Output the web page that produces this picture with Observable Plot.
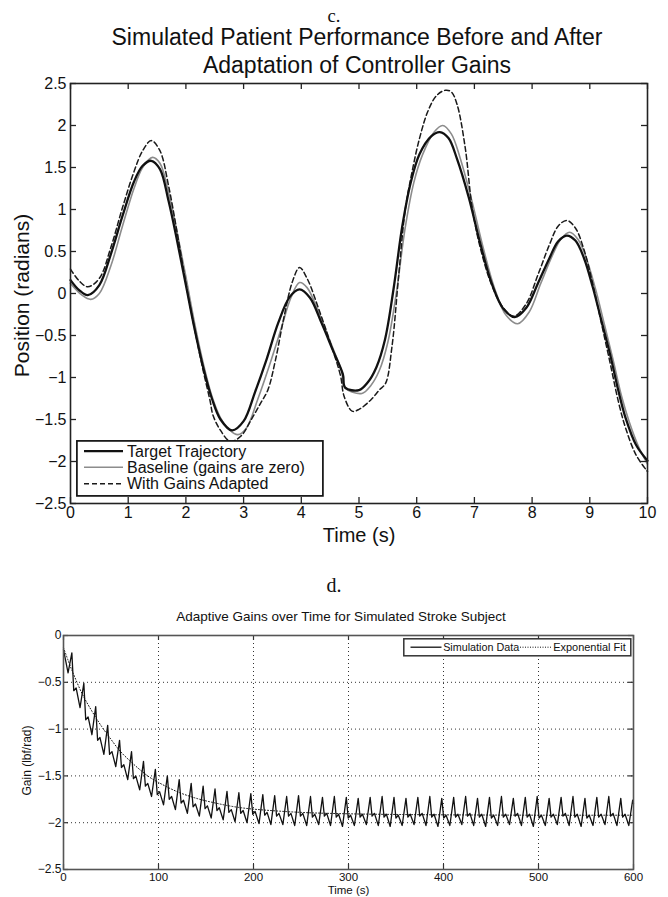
<!DOCTYPE html>
<html><head><meta charset="utf-8">
<script src="https://cdn.jsdelivr.net/npm/d3@7"></script>
<script src="https://cdn.jsdelivr.net/npm/@observablehq/plot@0.6"></script>
<style>
body{margin:0;background:#fff;}
#page{position:relative;width:668px;height:897px;overflow:hidden;font-family:"Liberation Sans",Arial,sans-serif;color:#111;background:#fff;}
.abs{position:absolute;white-space:nowrap;text-align:center;}
.serif{font-family:"Liberation Serif","Times New Roman",serif;}
</style></head><body><div id="page"></div>
<script>
// ---------- Panel c: trajectories ----------
const targetT = [0,0.15,0.3,0.5,0.7,0.9,1.1,1.25,1.4,1.55,1.7,1.85,2.0,2.15,2.3,2.45,2.6,2.8,3.0,3.2,3.4,3.6,3.8,3.97,4.15,4.35,4.55,4.72,4.76,5.0,5.15,5.3,5.45,5.6,5.75,5.9,6.05,6.25,6.4,6.55,6.7,6.9,7.1,7.3,7.5,7.7,7.9,8.1,8.3,8.45,8.6,8.75,8.9,9.05,9.2,9.35,9.5,9.62,9.8,10];
const targetV = [0.16,0.04,-0.02,0.10,0.47,0.92,1.33,1.52,1.58,1.48,1.10,0.62,0.10,-0.42,-0.88,-1.25,-1.50,-1.63,-1.52,-1.17,-0.78,-0.35,-0.04,0.05,-0.05,-0.35,-0.68,-0.96,-1.12,-1.15,-1.06,-0.88,-0.55,0.06,0.80,1.33,1.66,1.87,1.92,1.85,1.60,1.15,0.60,0.12,-0.18,-0.28,-0.17,0.12,0.42,0.62,0.69,0.63,0.42,0.08,-0.32,-0.72,-1.17,-1.48,-1.80,-1.99];

const baseT = [0,0.2,0.35,0.5,0.7,0.9,1.1,1.25,1.42,1.55,1.7,1.85,2.0,2.15,2.3,2.45,2.6,2.75,2.9,3.05,3.25,3.45,3.65,3.82,3.97,4.1,4.3,4.5,4.7,4.75,5.05,5.2,5.35,5.5,5.65,5.8,5.95,6.1,6.3,6.45,6.6,6.75,6.95,7.15,7.35,7.55,7.75,7.95,8.15,8.35,8.5,8.65,8.8,8.95,9.1,9.25,9.4,9.55,9.68,9.85,10];
const baseV = [0.12,-0.02,-0.07,0.0,0.33,0.80,1.25,1.50,1.62,1.55,1.20,0.72,0.20,-0.35,-0.83,-1.22,-1.48,-1.62,-1.68,-1.60,-1.25,-0.85,-0.42,-0.05,0.13,0.07,-0.22,-0.57,-0.93,-1.12,-1.19,-1.10,-0.92,-0.58,0.02,0.78,1.32,1.65,1.92,2.0,1.90,1.62,1.12,0.55,0.06,-0.26,-0.36,-0.22,0.12,0.45,0.65,0.73,0.64,0.40,0.05,-0.36,-0.78,-1.22,-1.52,-1.83,-2.03];

const adaptT = [0,0.15,0.3,0.5,0.7,0.9,1.1,1.25,1.4,1.55,1.7,1.85,2.0,2.15,2.3,2.42,2.47,2.6,2.77,2.95,3.15,3.3,3.42,3.55,3.7,3.85,3.97,4.1,4.3,4.5,4.68,4.74,4.88,5.0,5.2,5.35,5.46,5.57,5.69,5.8,5.92,6.05,6.2,6.35,6.5,6.6,6.7,6.84,6.96,7.1,7.3,7.5,7.68,7.9,8.1,8.3,8.45,8.6,8.75,8.9,9.05,9.2,9.35,9.5,9.62,9.8,10];
const adaptV = [0.29,0.15,0.08,0.18,0.55,1.02,1.45,1.70,1.82,1.70,1.28,0.72,0.12,-0.42,-0.92,-1.28,-1.45,-1.63,-1.76,-1.70,-1.48,-1.30,-1.15,-0.80,-0.28,0.15,0.31,0.18,-0.18,-0.58,-0.98,-1.22,-1.40,-1.38,-1.27,-1.15,-1.07,-0.64,0.23,0.99,1.45,1.85,2.18,2.36,2.42,2.40,2.25,1.74,1.03,0.55,0.10,-0.17,-0.27,-0.12,0.22,0.58,0.80,0.87,0.78,0.52,0.12,-0.35,-0.82,-1.30,-1.60,-1.92,-2.12];

const topXTicks = [0,1,2,3,4,5,6,7,8,9,10];
const topYTicks = [-2.5,-2,-1.5,-1,-0.5,0,0.5,1,1.5,2,2.5];
const topLegend = ["Target Trajectory","Baseline (gains are zero)","With Gains Adapted"];

// ---------- Panel d: adaptive gains ----------
const simStart = -0.15;
const simEnd = -1.80;
const simPeakTime = [8.8,21.4,33.9,46.5,59.0,71.6,84.2,96.7,109.3,121.8,134.4,147.0,159.5,172.1,184.6,197.2,209.8,222.3,234.9,247.4,260.0,272.6,285.1,297.7,310.2,322.8,335.4,347.9,360.5,373.0,385.6,398.2,410.7,423.3,435.8,448.4,461.0,473.5,486.1,498.6,511.2,523.8,536.3,548.9,561.4,574.0,586.6,599.1];
const simPeak = [-0.185,-0.51,-0.76,-0.96,-1.12,-1.24,-1.345,-1.43,-1.50,-1.54,-1.58,-1.61,-1.64,-1.665,-1.68,-1.69,-1.70,-1.71,-1.72,-1.71,-1.72,-1.73,-1.72,-1.73,-1.74,-1.73,-1.72,-1.73,-1.74,-1.73,-1.72,-1.74,-1.73,-1.72,-1.74,-1.73,-1.72,-1.74,-1.73,-1.72,-1.74,-1.73,-1.72,-1.74,-1.73,-1.72,-1.74,-1.76];
const simTrough = [-0.40,-0.77,-1.06,-1.27,-1.40,-1.54,-1.65,-1.72,-1.81,-1.86,-1.90,-1.93,-1.95,-1.97,-1.99,-2.00,-2.01,-2.02,-2.02,-2.03,-2.03,-2.02,-2.03,-2.04,-2.03,-2.02,-2.03,-2.04,-2.03,-2.02,-2.03,-2.04,-2.03,-2.02,-2.03,-2.04,-2.03,-2.02,-2.03,-2.04,-2.03,-2.02,-2.03,-2.04,-2.03,-2.02,-2.03,-2.03];
const simShoulder = [-0.59,-0.90,-1.12,-1.27,-1.41,-1.53,-1.61,-1.70,-1.75,-1.79,-1.83,-1.85,-1.87,-1.89,-1.90,-1.91,-1.92,-1.93,-1.93,-1.93,-1.94,-1.93,-1.94,-1.95,-1.94,-1.93,-1.94,-1.95,-1.94,-1.93,-1.94,-1.95,-1.94,-1.93,-1.94,-1.95,-1.94,-1.93,-1.94,-1.95,-1.94,-1.93,-1.94,-1.95,-1.94,-1.93,-1.94];
const simNotch = [-0.56,-0.87,-1.09,-1.24,-1.38,-1.50,-1.58,-1.67,-1.72,-1.76,-1.80,-1.82,-1.84,-1.86,-1.87,-1.88,-1.89,-1.90,-1.90,-1.90,-1.91,-1.90,-1.91,-1.92,-1.91,-1.90,-1.91,-1.92,-1.91,-1.90,-1.91,-1.92,-1.91,-1.90,-1.91,-1.92,-1.91,-1.90,-1.91,-1.92,-1.91,-1.90,-1.91,-1.92,-1.91,-1.90,-1.91];

const fitT = [0,5,10,20,30,40,50,60,70,80,90,100,120,140,160,180,200,250,300,350,400,500,600];
const fitV = [-0.13,-0.27,-0.40,-0.63,-0.81,-0.97,-1.11,-1.24,-1.34,-1.43,-1.51,-1.57,-1.67,-1.74,-1.79,-1.83,-1.855,-1.89,-1.905,-1.912,-1.916,-1.92,-1.92];

const botXTicks = [0,100,200,300,400,500,600];
const botYTicks = [-2.5,-2,-1.5,-1,-0.5,0];
const botGridX = [100,200,300,400,500];
const botGridY = [-2,-1.5,-1,-0.5];
const botLegend = ["Simulation Data","Exponential Fit"];

// ---------- build ----------
const zip = (T, V) => T.map((t, i) => ({t, v: V[i]}));
const target = zip(targetT, targetV);
const baseline = zip(baseT, baseV);
const adapted = zip(adaptT, adaptV);
const fit = zip(fitT, fitV);
const sim = [{t: 0, v: simStart}];
simPeakTime.forEach((tp, k) => {
  sim.push({t: tp - 4, v: simTrough[k]});
  sim.push({t: tp, v: simPeak[k]});
  if (k < simShoulder.length) {
    sim.push({t: tp + 2, v: simShoulder[k]});
    sim.push({t: tp + 4.5, v: simNotch[k]});
  }
});
sim.push({t: 600, v: simEnd});

const fmt = d => (d < 0 ? "\u2212" : "") + String(Math.abs(d));
const FONT = "Liberation Sans, Arial, Helvetica, sans-serif";
const page = document.getElementById("page");

function addText(txt, {left, top, width, size, cls = "", extra = ""}) {
  const d = document.createElement("div");
  d.className = "abs " + cls;
  d.style.cssText = `left:${left}px;top:${top}px;width:${width}px;font-size:${size}px;line-height:${size}px;${extra}`;
  d.textContent = txt;
  page.appendChild(d);
}
function place(node, left, top) {
  const w = document.createElement("div");
  w.style.cssText = `position:absolute;left:${left}px;top:${top}px;`;
  w.appendChild(node);
  page.appendChild(w);
}

// headings
addText("c.", {left: 234, top: 6.5, width: 200, size: 18.5, cls: "serif"});
addText("Simulated Patient Performance Before and After", {left: 7, top: 26, width: 700, size: 23});
addText("Adaptation of Controller Gains", {left: 7, top: 53.7, width: 700, size: 23});
addText("d.", {left: 234, top: 575, width: 200, size: 20, cls: "serif"});
addText("Adaptive Gains over Time for Simulated Stroke Subject", {left: 41, top: 609.5, width: 600, size: 13.5});

// top chart
const tW = 668, tH = 471, tMT = 6, tMB = 45, tML = 70, tMR = 21;
const tPH = tH - tMT - tMB, tPW = tW - tML - tMR;
const topChart = Plot.plot({
  width: tW, height: tH, marginTop: tMT, marginBottom: tMB, marginLeft: tML, marginRight: tMR,
  style: {fontFamily: FONT, background: "transparent", color: "#111", overflow: "visible"},
  x: {domain: [0, 10]},
  y: {domain: [-2.5, 2.5]},
  marks: [
    Plot.line(baseline, {x: "t", y: "v", stroke: "#8c8c8c", strokeWidth: 1.6, curve: "catmull-rom"}),
    Plot.line(adapted, {x: "t", y: "v", stroke: "#1a1a1a", strokeWidth: 1.5, strokeDasharray: "5,3", curve: "catmull-rom"}),
    Plot.line(target, {x: "t", y: "v", stroke: "#111", strokeWidth: 2.3, curve: "catmull-rom"}),
    Plot.ruleX(topXTicks, {stroke: "#222", strokeWidth: 1.3, insetTop: tPH - 6}),
    Plot.ruleX(topXTicks, {stroke: "#222", strokeWidth: 1.3, insetBottom: tPH - 6}),
    Plot.ruleY(topYTicks, {stroke: "#222", strokeWidth: 1.3, insetRight: tPW - 6}),
    Plot.ruleY(topYTicks, {stroke: "#222", strokeWidth: 1.3, insetLeft: tPW - 6}),
    Plot.frame({stroke: "#222", strokeWidth: 1.6}),
    Plot.axisX(topXTicks, {tickSize: 0, tickPadding: 3, fontSize: 16, label: null, tickFormat: fmt, fill: "#111"}),
    Plot.axisY(topYTicks, {tickSize: 0, tickPadding: 4, fontSize: 16, label: null, tickFormat: fmt, fill: "#111"}),
    Plot.text(["Time (s)"], {frameAnchor: "bottom", lineAnchor: "middle", textAnchor: "middle", dy: 31.6, fontSize: 20, fill: "#111"}),
    Plot.text(["Position (radians)"], {frameAnchor: "left", lineAnchor: "middle", textAnchor: "middle", dx: -48, dy: 2, rotate: -90, fontSize: 21, fill: "#111"})
  ]
});
place(topChart, 0, 77);

// bottom chart
const bW = 668, bH = 269, bMT = 7, bMB = 28, bML = 63, bMR = 35;
const bPH = bH - bMT - bMB, bPW = bW - bML - bMR;
const botChart = Plot.plot({
  width: bW, height: bH, marginTop: bMT, marginBottom: bMB, marginLeft: bML, marginRight: bMR,
  style: {fontFamily: FONT, background: "transparent", color: "#111", overflow: "visible"},
  x: {domain: [0, 600]},
  y: {domain: [-2.5, 0]},
  marks: [
    Plot.ruleX(botGridX, {stroke: "#333", strokeWidth: 1, strokeDasharray: "1,3"}),
    Plot.ruleY(botGridY, {stroke: "#333", strokeWidth: 1, strokeDasharray: "1,3"}),
    Plot.line(sim, {x: "t", y: "v", stroke: "#111", strokeWidth: 1.3}),
    Plot.line(fit, {x: "t", y: "v", stroke: "#111", strokeWidth: 1, strokeDasharray: "1,2", curve: "catmull-rom"}),
    Plot.ruleX(botXTicks, {stroke: "#333", strokeWidth: 1.2, insetTop: bPH - 5}),
    Plot.ruleX(botXTicks, {stroke: "#333", strokeWidth: 1.2, insetBottom: bPH - 5}),
    Plot.ruleY(botYTicks, {stroke: "#333", strokeWidth: 1.2, insetRight: bPW - 5}),
    Plot.ruleY(botYTicks, {stroke: "#333", strokeWidth: 1.2, insetLeft: bPW - 5}),
    Plot.frame({stroke: "#555", strokeWidth: 1.6}),
    Plot.axisX(botXTicks, {tickSize: 0, tickPadding: 3, fontSize: 11.5, label: null, tickFormat: fmt, fill: "#111"}),
    Plot.axisY(botYTicks, {tickSize: 0, tickPadding: 2, fontSize: 12, label: null, tickFormat: fmt, fill: "#111"}),
    Plot.text(["Time (s)"], {frameAnchor: "bottom", lineAnchor: "middle", textAnchor: "middle", dy: 20.8, fontSize: 11.5, fill: "#111"}),
    Plot.text(["Gain (lbf/rad)"], {frameAnchor: "left", lineAnchor: "middle", textAnchor: "middle", dx: -36, dy: 8, rotate: -90, fontSize: 12, fill: "#111"})
  ]
});
place(botChart, 0, 628);

// legends (SVG overlays)
const NS = "http://www.w3.org/2000/svg";
function el(tag, attrs, text) {
  const e = document.createElementNS(NS, tag);
  for (const k in attrs) e.setAttribute(k, attrs[k]);
  if (text != null) e.textContent = text;
  return e;
}
{
  const svg = el("svg", {width: 248, height: 57, style: `position:absolute;left:76px;top:439.5px;font-family:${FONT}`});
  svg.appendChild(el("rect", {x: 0.9, y: 0.9, width: 246, height: 55, fill: "#fff", stroke: "#111", "stroke-width": 1.7}));
  const styles = [
    {stroke: "#111", "stroke-width": 2.3},
    {stroke: "#8c8c8c", "stroke-width": 1.6},
    {stroke: "#1a1a1a", "stroke-width": 1.5, "stroke-dasharray": "5,3"}
  ];
  const ys = [11.2, 27.2, 43.8];
  topLegend.forEach((lab, i) => {
    svg.appendChild(el("line", Object.assign({x1: 8, x2: 47, y1: ys[i], y2: ys[i]}, styles[i])));
    svg.appendChild(el("text", {x: 51, y: ys[i] + 5.6, "font-size": 16, fill: "#111"}, lab));
  });
  page.appendChild(svg);
}
{
  const svg = el("svg", {width: 262, height: 19, style: `position:absolute;left:402.5px;top:637.5px;font-family:${FONT};overflow:visible`});
  svg.appendChild(el("rect", {x: 0.8, y: 0.8, width: 227, height: 17, fill: "#fff", stroke: "#333", "stroke-width": 1.5}));
  svg.appendChild(el("line", {x1: 7.5, x2: 38.5, y1: 9.2, y2: 9.2, stroke: "#111", "stroke-width": 1.3}));
  svg.appendChild(el("text", {x: 40.2, y: 13.2, "font-size": 11.5, fill: "#111", textLength: 76, lengthAdjust: "spacingAndGlyphs"}, botLegend[0]));
  svg.appendChild(el("line", {x1: 117, x2: 149.5, y1: 9.2, y2: 9.2, stroke: "#111", "stroke-width": 1, "stroke-dasharray": "1,1.5"}));
  svg.appendChild(el("text", {x: 150.2, y: 13.2, "font-size": 11.5, fill: "#111", textLength: 72.5, lengthAdjust: "spacingAndGlyphs"}, botLegend[1]));
  page.appendChild(svg);
}
</script></body></html>
